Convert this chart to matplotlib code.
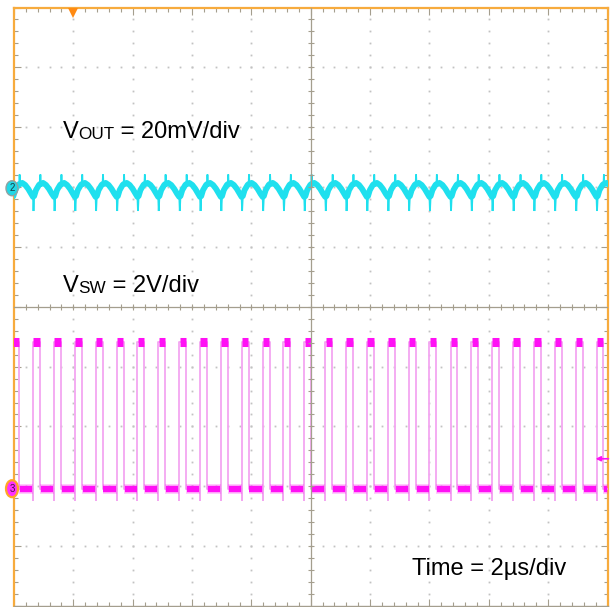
import matplotlib
matplotlib.use('Agg')
import matplotlib.pyplot as plt
import numpy as np
from matplotlib.patches import Ellipse

# ---------------- values ----------------
time_per_div_us = 2.0          # Time = 2us/div
vout_mV_per_div = 20.0         # VOUT = 20mV/div
vsw_V_per_div = 2.0            # VSW = 2V/div
ch2_offset_div = 1.98          # ground marker of channel 2 (VOUT)
ch3_offset_div = -3.04         # ground marker of channel 3 (VSW)
trigger_time_us = 2.0
ch3_trigger_level_V = 1.0

# rising edges of the switch node (us)
vsw_rise_us = [-0.06, 0.64, 1.35, 2.05, 2.75, 3.46, 4.16, 4.86, 5.57, 6.27,
               6.97, 7.67, 8.38, 9.08, 9.78, 10.49, 11.19, 11.89, 12.60, 13.30,
               14.00, 14.71, 15.41, 16.11, 16.82, 17.52, 18.22, 18.93, 19.63]
vsw_on_us = 0.235
vsw_high_V = 4.9
vsw_low_V = 0.0
vsw_undershoot_V = -0.38

# output ripple over one switching period, measured from a rising edge
ripple_t_us = [0.0, 0.017, 0.040, 0.101, 0.202, 0.236, 0.249, 0.263, 0.337, 0.438, 0.539, 0.640]
ripple_mV = [-2.9, -7.6, -2.6, -0.6, 1.1, 1.4, 4.6, 1.4, 1.8, 1.1, -0.2, -1.9]
ripple_is_spike = [False, True, False, False, False, False, True, False, False, False, False, False]

# labels
label_vout = ('V', 'OUT', ' = 20mV/div')
label_vsw = ('V', 'SW', ' = 2V/div')
label_time = 'Time = 2\u00b5s/div'

# ---------------- figure ----------------
W, H = 616, 607
fig = plt.figure(figsize=(W / 100, H / 100), dpi=100)
L, R, T, B = 14, 607.5, 7.5, 606
ax = fig.add_axes([L / W, 1 - B / H, (R - L) / W, (B - T) / H])
t_end = 10 * time_per_div_us
ax.set_xlim(0, t_end)
ax.set_ylim(-5, 5)

orange = '#f7ab3d'
grat = '#a49e8e'
cyan = '#1fe0ee'
mag = '#ff10f5'
pale_mag = '#f3a6f1'
FONT = 'Liberation Sans'

for s in ('left', 'top', 'right'):
    ax.spines[s].set_color(orange)
    ax.spines[s].set_linewidth(1.6)
ax.spines['bottom'].set_color(grat)
ax.spines['bottom'].set_linewidth(1.0)

ax.set_xticks(np.arange(0, t_end + 0.01, time_per_div_us))
ax.set_xticks(np.arange(0, t_end + 0.01, time_per_div_us / 5), minor=True)
ax.set_yticks(np.arange(-5, 5.01, 1))
ax.set_yticks(np.arange(-5, 5.01, 0.2), minor=True)
ax.tick_params(which='both', direction='in', top=True, right=True,
               labelbottom=False, labelleft=False, color=grat, width=0.8)
ax.tick_params(which='major', length=5)
ax.tick_params(which='minor', length=3.2)

# dotted graticule
xmaj = [x for x in np.arange(time_per_div_us, t_end, time_per_div_us) if abs(x - t_end / 2) > 1e-6]
ymaj = [y for y in range(-4, 5) if y != 0]
yminor = np.arange(-5 + 0.2, 5, 0.2)
xminor = np.arange(time_per_div_us / 5, t_end, time_per_div_us / 5)
gx = np.concatenate([np.repeat(xmaj, len(yminor)), np.tile(xminor, len(ymaj))])
gy = np.concatenate([np.tile(yminor, len(xmaj)), np.repeat(ymaj, len(xminor))])
ax.plot(gx, gy, ls='', marker='s', ms=1.3, mew=0, color='#c2c2c2', zorder=1)

# ---------------- VOUT trace (channel 2) ----------------
vt, vv, bt, bv = [], [], [], []
for r in vsw_rise_us:
    for t, v, sp in zip(ripple_t_us, ripple_mV, ripple_is_spike):
        vt.append(r + t)
        vv.append(v)
        if not sp:
            bt.append(r + t)
            bv.append(v)
vy = ch2_offset_div + np.array(vv) / vout_mV_per_div
by = ch2_offset_div + np.array(bv) / vout_mV_per_div
ax.plot(bt, by, color=cyan, lw=4.2, zorder=3, solid_joinstyle='round')
ax.plot(vt, vy, color=cyan, lw=1.3, zorder=3.1, solid_joinstyle='miter')

# ---------------- VSW trace (channel 3) ----------------
def v2div(v):
    return ch3_offset_div + np.asarray(v) / vsw_V_per_div

rise = np.array(vsw_rise_us)
fall = rise + vsw_on_us
st, sv = [], []
for r, f in zip(rise, fall):
    st += [r, r, r, f, f]
    sv += [vsw_low_V, vsw_undershoot_V, vsw_high_V, vsw_high_V, vsw_low_V]
st.append(t_end)
sv.append(vsw_low_V)
ax.plot(st, v2div(sv), color=pale_mag, lw=1.3, zorder=3)
next_rise = np.append(rise[1:], t_end)
low_y = np.full(len(rise), v2div(vsw_low_V))
high_y = np.full(len(rise), v2div(vsw_high_V))
ax.hlines(low_y, fall + 0.03, next_rise - 0.03, color=mag, lw=4.6, zorder=3.2)
ax.hlines(low_y, fall, next_rise, color=mag, lw=7, alpha=0.25, zorder=3.1)
ax.hlines(high_y, rise + 0.01, fall - 0.01, color=mag, lw=6.5, zorder=3.2)

# center cross with ticks (on top of traces)
ax.axhline(0, color=grat, lw=0.9, zorder=4)
ax.axvline(t_end / 2, color=grat, lw=0.9, zorder=4)
ax.plot(xminor, np.zeros_like(xminor), ls='', marker='|', ms=5, mew=0.8, color=grat, zorder=4)
ax.plot(np.full_like(yminor, t_end / 2), yminor, ls='', marker='_', ms=5, mew=0.8, color=grat, zorder=4)

# trigger position marker
ax.plot([trigger_time_us], [5 - 5.5 / 59.85], marker='v', ms=6.5, color='#ff8a12', mew=0,
        clip_on=False, zorder=6)

# ch3 trigger level arrow on the right
ax.annotate('', xy=(t_end - 0.4, v2div(ch3_trigger_level_V)),
            xytext=(t_end + 0.03, v2div(ch3_trigger_level_V)),
            arrowprops=dict(arrowstyle='-|>', color=mag, lw=1.2, mutation_scale=7,
                            shrinkA=0, shrinkB=0),
            annotation_clip=False, zorder=6)

# channel ground markers
px_us = t_end / (R - L)
px_div = 10 / (B - T)
e2 = Ellipse((-2 * px_us, ch2_offset_div), 12 * px_us, 15 * px_div, facecolor='#22d8e6',
             edgecolor='#8fa3a3', lw=1.0, clip_on=False, zorder=7)
ax.add_patch(e2)
ax.text(-2 * px_us, ch2_offset_div, '2', fontsize=7, ha='center', va='center',
        color='#1a3a40', family=FONT, clip_on=False, zorder=8)
e3 = Ellipse((-2 * px_us, ch3_offset_div), 12 * px_us, 17 * px_div, facecolor='#ff30ff',
             edgecolor='#ffa626', lw=1.6, clip_on=False, zorder=7)
ax.add_patch(e3)
ax.text(-2 * px_us, ch3_offset_div, '3', fontsize=7, ha='center', va='center',
        color='#4a1040', family=FONT, clip_on=False, zorder=8)

# ---------------- labels ----------------
def sub_label(parts, x, y):
    big, small = 17, 12.3
    d = 0.21 * (big - small)
    t1 = fig.text(x / W, 1 - y / H, parts[0], fontsize=big, family=FONT, va='baseline', zorder=9)
    t2 = ax.annotate(parts[1], xy=(1, 0), xycoords=t1, xytext=(0, d), textcoords='offset points',
                     fontsize=small, family=FONT, va='bottom', ha='left', zorder=9)
    ax.annotate(parts[2], xy=(1, 0), xycoords=t2, xytext=(0, -d), textcoords='offset points',
                fontsize=big, family=FONT, va='bottom', ha='left', zorder=9)

sub_label(label_vout, 62.5, 138)
sub_label(label_vsw, 62.5, 292)
fig.text(412.5 / W, 1 - 575 / H, label_time, fontsize=17, family=FONT, va='baseline')

fig.savefig('out.png', dpi=100)
